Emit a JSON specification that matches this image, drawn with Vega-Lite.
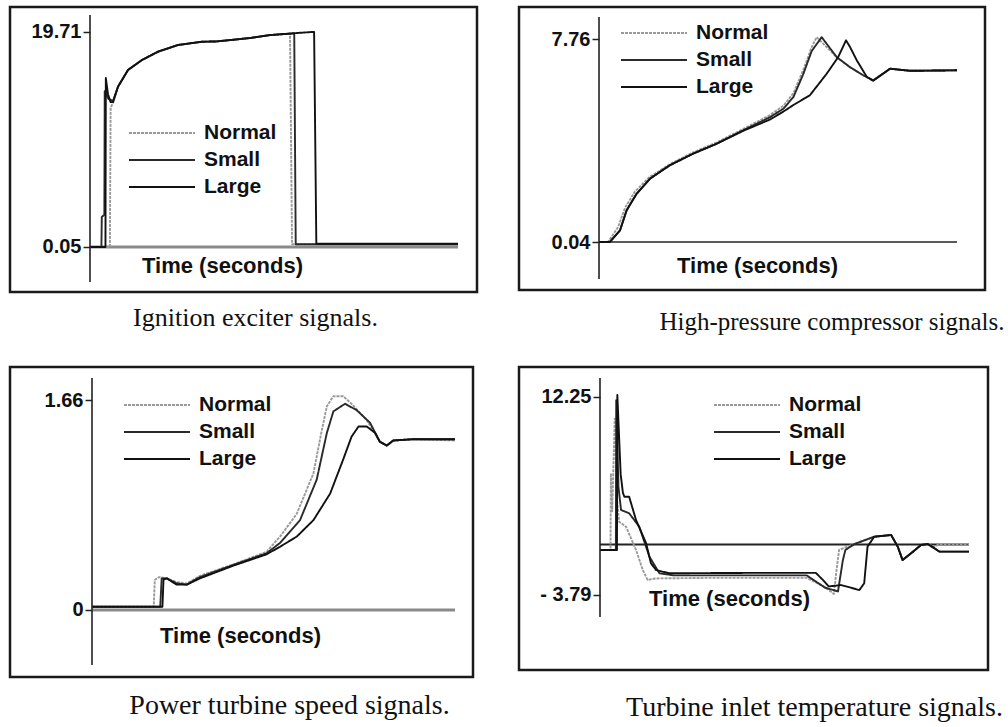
{
  "$schema": "https://vega.github.io/schema/vega-lite/v6.json",
  "background": "white",
  "padding": {"left": 8, "top": 5, "right": 0, "bottom": 0},
  "bounds": "flush",
  "columns": 2,
  "spacing": {"row": 75, "column": 42},
  "config": {
    "view": {"stroke": "#1a1a1a", "strokeWidth": 2.5},
    "font": "Liberation Sans",
    "line": {"strokeWidth": 1.9, "strokeJoin": "round"},
    "axis": {"labelFont": "Liberation Sans", "labelFontSize": 20, "labelFontWeight": "bold", "labelColor": "#111", "titleFont": "Liberation Sans", "titleFontSize": 22, "titleFontWeight": "bold", "titleColor": "#111", "grid": false, "tickColor": "#222", "tickWidth": 1.5},
    "axisY": {"domain": false, "tickSize": 7, "labelPadding": 2, "title": null, "labelExpr": "datum.value == 0 ? '0' : datum.value < 0 ? '- ' + format(-datum.value, '.2f') : format(datum.value, '.2f')"},
    "axisX": {"domain": false, "ticks": false, "labels": false, "titleBaseline": "middle", "titleAlign": "center"},
    "legend": {"symbolType": "stroke", "symbolSize": 4356, "symbolStrokeWidth": 2, "clipHeight": 22, "rowPadding": 5, "labelFont": "Liberation Sans", "labelFontSize": 21, "labelFontWeight": "bold", "labelColor": "#111", "labelOffset": 8, "padding": 0},
    "title": {"font": "Liberation Serif", "fontSize": 25, "fontWeight": "normal", "color": "#111", "orient": "bottom"}
  },
  "datasets": {
    "p1": [
      {"t": 0, "v": 0.05, "s": "Normal"}, {"t": 5.4, "v": 0.05, "s": "Normal"}, {"t": 5.6, "v": 12.8, "s": "Normal"}, {"t": 6.25, "v": 13.22, "s": "Normal"},
      {"t": 7.61, "v": 14.71, "s": "Normal"}, {"t": 10.33, "v": 16.24, "s": "Normal"}, {"t": 14.13, "v": 17.15, "s": "Normal"}, {"t": 18.48, "v": 17.91, "s": "Normal"}, {"t": 23.9, "v": 18.52, "s": "Normal"}, {"t": 30.4, "v": 18.82, "s": "Normal"}, {"t": 34.5, "v": 18.85, "s": "Normal"}, {"t": 43.5, "v": 19.16, "s": "Normal"}, {"t": 48.9, "v": 19.43, "s": "Normal"}, {"t": 54.35, "v": 19.55, "s": "Normal"}, {"t": 54.9, "v": 0.3, "s": "Normal"}, {"t": 100, "v": 0.3, "s": "Normal"},
      {"t": 0, "v": 0.05, "s": "Small"}, {"t": 3.1, "v": 0.05, "s": "Small"}, {"t": 3.2, "v": 2.8, "s": "Small"}, {"t": 3.9, "v": 3.0, "s": "Small"}, {"t": 4.0, "v": 14.3, "s": "Small"}, {"t": 5.0, "v": 13.6, "s": "Small"}, {"t": 6.25, "v": 13.4, "s": "Small"},
      {"t": 7.61, "v": 14.71, "s": "Small"}, {"t": 10.33, "v": 16.24, "s": "Small"}, {"t": 14.13, "v": 17.15, "s": "Small"}, {"t": 18.48, "v": 17.91, "s": "Small"}, {"t": 23.9, "v": 18.52, "s": "Small"}, {"t": 30.4, "v": 18.82, "s": "Small"}, {"t": 34.5, "v": 18.85, "s": "Small"}, {"t": 43.5, "v": 19.16, "s": "Small"}, {"t": 48.9, "v": 19.43, "s": "Small"}, {"t": 55.5, "v": 19.58, "s": "Small"}, {"t": 55.9, "v": 0.3, "s": "Small"}, {"t": 100, "v": 0.3, "s": "Small"},
      {"t": 0, "v": 0.05, "s": "Large"}, {"t": 4.2, "v": 0.05, "s": "Large"}, {"t": 4.3, "v": 15.5, "s": "Large"}, {"t": 4.9, "v": 14.0, "s": "Large"}, {"t": 5.6, "v": 13.3, "s": "Large"}, {"t": 6.25, "v": 13.3, "s": "Large"},
      {"t": 7.61, "v": 14.71, "s": "Large"}, {"t": 10.33, "v": 16.24, "s": "Large"}, {"t": 14.13, "v": 17.15, "s": "Large"}, {"t": 18.48, "v": 17.91, "s": "Large"}, {"t": 23.9, "v": 18.52, "s": "Large"}, {"t": 30.4, "v": 18.82, "s": "Large"}, {"t": 34.5, "v": 18.85, "s": "Large"}, {"t": 43.5, "v": 19.16, "s": "Large"}, {"t": 48.9, "v": 19.43, "s": "Large"}, {"t": 55.5, "v": 19.6, "s": "Large"}, {"t": 60.3, "v": 19.71, "s": "Large"}, {"t": 60.9, "v": 19.71, "s": "Large"}, {"t": 61.5, "v": 0.35, "s": "Large"}, {"t": 100, "v": 0.35, "s": "Large"}
    ],
    "p2": [
      {"t": 0, "v": 0.04, "s": "Normal"}, {"t": 2.5, "v": 0.04, "s": "Normal"}, {"t": 5.3, "v": 0.6, "s": "Normal"}, {"t": 7.3, "v": 1.35, "s": "Normal"}, {"t": 10.0, "v": 1.95, "s": "Normal"}, {"t": 14.0, "v": 2.5, "s": "Normal"}, {"t": 19.8, "v": 3.0, "s": "Normal"}, {"t": 26.3, "v": 3.45, "s": "Normal"}, {"t": 32.9, "v": 3.83, "s": "Normal"}, {"t": 40.3, "v": 4.34, "s": "Normal"}, {"t": 47.8, "v": 4.87, "s": "Normal"}, {"t": 51.5, "v": 5.22, "s": "Normal"}, {"t": 54.3, "v": 5.7, "s": "Normal"}, {"t": 57.1, "v": 6.6, "s": "Normal"}, {"t": 59.4, "v": 7.45, "s": "Normal"}, {"t": 60.8, "v": 7.83, "s": "Normal"}, {"t": 66.4, "v": 7.07, "s": "Normal"}, {"t": 70.1, "v": 6.69, "s": "Normal"}, {"t": 73.8, "v": 6.38, "s": "Normal"}, {"t": 76.6, "v": 6.19, "s": "Normal"}, {"t": 81.3, "v": 6.63, "s": "Normal"}, {"t": 87, "v": 6.55, "s": "Normal"}, {"t": 100, "v": 6.57, "s": "Normal"},
      {"t": 0, "v": 0.04, "s": "Small"}, {"t": 3.0, "v": 0.04, "s": "Small"}, {"t": 5.87, "v": 0.485, "s": "Small"}, {"t": 7.73, "v": 1.25, "s": "Small"}, {"t": 10.52, "v": 1.88, "s": "Small"}, {"t": 14.25, "v": 2.45, "s": "Small"}, {"t": 19.8, "v": 2.96, "s": "Small"}, {"t": 26.3, "v": 3.4, "s": "Small"}, {"t": 32.9, "v": 3.78, "s": "Small"}, {"t": 40.3, "v": 4.29, "s": "Small"}, {"t": 47.8, "v": 4.79, "s": "Small"}, {"t": 51.5, "v": 5.11, "s": "Small"}, {"t": 54.3, "v": 5.55, "s": "Small"}, {"t": 57.1, "v": 6.44, "s": "Small"}, {"t": 59.4, "v": 7.3, "s": "Small"}, {"t": 62.2, "v": 7.83, "s": "Small"}, {"t": 66.4, "v": 7.07, "s": "Small"}, {"t": 70.1, "v": 6.69, "s": "Small"}, {"t": 73.8, "v": 6.38, "s": "Small"}, {"t": 76.6, "v": 6.19, "s": "Small"}, {"t": 81.3, "v": 6.63, "s": "Small"}, {"t": 87, "v": 6.55, "s": "Small"}, {"t": 100, "v": 6.57, "s": "Small"},
      {"t": 0, "v": 0.04, "s": "Large"}, {"t": 3.0, "v": 0.04, "s": "Large"}, {"t": 5.87, "v": 0.485, "s": "Large"}, {"t": 7.73, "v": 1.25, "s": "Large"}, {"t": 10.52, "v": 1.88, "s": "Large"}, {"t": 14.25, "v": 2.45, "s": "Large"}, {"t": 19.8, "v": 2.96, "s": "Large"}, {"t": 26.3, "v": 3.4, "s": "Large"}, {"t": 32.9, "v": 3.78, "s": "Large"}, {"t": 40.3, "v": 4.27, "s": "Large"}, {"t": 47.8, "v": 4.7, "s": "Large"}, {"t": 51.5, "v": 5.0, "s": "Large"}, {"t": 54.3, "v": 5.25, "s": "Large"}, {"t": 58.9, "v": 5.62, "s": "Large"}, {"t": 63.6, "v": 6.44, "s": "Large"}, {"t": 66.8, "v": 7.07, "s": "Large"}, {"t": 69.0, "v": 7.71, "s": "Large"}, {"t": 70.1, "v": 7.46, "s": "Large"}, {"t": 72.0, "v": 6.95, "s": "Large"}, {"t": 74.8, "v": 6.32, "s": "Large"}, {"t": 76.6, "v": 6.17, "s": "Large"}, {"t": 81.3, "v": 6.63, "s": "Large"}, {"t": 87, "v": 6.55, "s": "Large"}, {"t": 100, "v": 6.57, "s": "Large"}
    ],
    "p3": [
      {"t": 0, "v": 0.026, "s": "Normal"}, {"t": 17.0, "v": 0.026, "s": "Normal"}, {"t": 17.3, "v": 0.237, "s": "Normal"}, {"t": 18.5, "v": 0.26, "s": "Normal"}, {"t": 20.6, "v": 0.25, "s": "Normal"}, {"t": 23.3, "v": 0.22, "s": "Normal"}, {"t": 26.1, "v": 0.21, "s": "Normal"}, {"t": 29.75, "v": 0.27, "s": "Normal"}, {"t": 38.9, "v": 0.36, "s": "Normal"}, {"t": 48.1, "v": 0.46, "s": "Normal"}, {"t": 51.8, "v": 0.58, "s": "Normal"}, {"t": 56.4, "v": 0.76, "s": "Normal"}, {"t": 61.0, "v": 1.08, "s": "Normal"}, {"t": 63.3, "v": 1.42, "s": "Normal"}, {"t": 64.7, "v": 1.61, "s": "Normal"}, {"t": 66.5, "v": 1.69, "s": "Normal"}, {"t": 69.2, "v": 1.69, "s": "Normal"}, {"t": 71.5, "v": 1.63, "s": "Normal"}, {"t": 75.7, "v": 1.5, "s": "Normal"}, {"t": 79.3, "v": 1.33, "s": "Normal"}, {"t": 81.2, "v": 1.3, "s": "Normal"}, {"t": 83.0, "v": 1.34, "s": "Normal"}, {"t": 88.5, "v": 1.35, "s": "Normal"}, {"t": 100, "v": 1.34, "s": "Normal"},
      {"t": 0, "v": 0.026, "s": "Small"}, {"t": 18.8, "v": 0.026, "s": "Small"}, {"t": 19.2, "v": 0.25, "s": "Small"}, {"t": 20.6, "v": 0.25, "s": "Small"}, {"t": 23.3, "v": 0.21, "s": "Small"}, {"t": 26.1, "v": 0.2, "s": "Small"}, {"t": 29.75, "v": 0.26, "s": "Small"}, {"t": 38.9, "v": 0.356, "s": "Small"}, {"t": 48.1, "v": 0.448, "s": "Small"}, {"t": 51.8, "v": 0.53, "s": "Small"}, {"t": 57.3, "v": 0.71, "s": "Small"}, {"t": 61.9, "v": 1.03, "s": "Small"}, {"t": 64.7, "v": 1.4, "s": "Small"}, {"t": 66.5, "v": 1.57, "s": "Small"}, {"t": 69.7, "v": 1.63, "s": "Small"}, {"t": 72.9, "v": 1.58, "s": "Small"}, {"t": 76.6, "v": 1.48, "s": "Small"}, {"t": 79.3, "v": 1.33, "s": "Small"}, {"t": 81.2, "v": 1.3, "s": "Small"}, {"t": 83.0, "v": 1.34, "s": "Small"}, {"t": 88.5, "v": 1.35, "s": "Small"}, {"t": 100, "v": 1.35, "s": "Small"},
      {"t": 0, "v": 0.026, "s": "Large"}, {"t": 19.4, "v": 0.026, "s": "Large"}, {"t": 19.7, "v": 0.24, "s": "Large"}, {"t": 20.6, "v": 0.25, "s": "Large"}, {"t": 23.3, "v": 0.2, "s": "Large"}, {"t": 26.1, "v": 0.2, "s": "Large"}, {"t": 29.75, "v": 0.25, "s": "Large"}, {"t": 38.9, "v": 0.35, "s": "Large"}, {"t": 48.1, "v": 0.44, "s": "Large"}, {"t": 51.8, "v": 0.5, "s": "Large"}, {"t": 56.4, "v": 0.58, "s": "Large"}, {"t": 61.0, "v": 0.71, "s": "Large"}, {"t": 65.6, "v": 0.92, "s": "Large"}, {"t": 69.2, "v": 1.19, "s": "Large"}, {"t": 71.5, "v": 1.37, "s": "Large"}, {"t": 73.4, "v": 1.45, "s": "Large"}, {"t": 75.7, "v": 1.45, "s": "Large"}, {"t": 78.0, "v": 1.4, "s": "Large"}, {"t": 79.3, "v": 1.33, "s": "Large"}, {"t": 81.2, "v": 1.3, "s": "Large"}, {"t": 83.0, "v": 1.34, "s": "Large"}, {"t": 88.5, "v": 1.35, "s": "Large"}, {"t": 100, "v": 1.35, "s": "Large"}
    ],
    "p4": [
      {"t": 0, "v": -0.14, "s": "Normal"}, {"t": 2.85, "v": -0.14, "s": "Normal"}, {"t": 2.95, "v": 6.07, "s": "Normal"}, {"t": 3.3, "v": 3.0, "s": "Normal"}, {"t": 4.0, "v": 10.5, "s": "Normal"}, {"t": 4.6, "v": 4.0, "s": "Normal"}, {"t": 5.2, "v": 2.15, "s": "Normal"}, {"t": 7.05, "v": 1.74, "s": "Normal"}, {"t": 9.76, "v": -0.14, "s": "Normal"}, {"t": 11.6, "v": -1.77, "s": "Normal"}, {"t": 12.9, "v": -2.57, "s": "Normal"}, {"t": 15, "v": -2.45, "s": "Normal"}, {"t": 30, "v": -2.4, "s": "Normal"}, {"t": 56, "v": -2.4, "s": "Normal"}, {"t": 60.7, "v": -3.1, "s": "Normal"}, {"t": 63.4, "v": -3.7, "s": "Normal"}, {"t": 64.0, "v": -2.0, "s": "Normal"}, {"t": 64.8, "v": -0.14, "s": "Normal"}, {"t": 68.8, "v": 0.34, "s": "Normal"}, {"t": 74.3, "v": 0.93, "s": "Normal"}, {"t": 78.9, "v": 1.07, "s": "Normal"}, {"t": 80.7, "v": 0.12, "s": "Normal"}, {"t": 82.0, "v": -0.96, "s": "Normal"}, {"t": 84.3, "v": -0.41, "s": "Normal"}, {"t": 87.0, "v": 0.26, "s": "Normal"}, {"t": 88.8, "v": 0.34, "s": "Normal"}, {"t": 90.6, "v": 0.12, "s": "Normal"}, {"t": 92, "v": 0.34, "s": "Normal"}, {"t": 100, "v": 0.34, "s": "Normal"},
      {"t": 0, "v": -0.14, "s": "Small"}, {"t": 4.3, "v": -0.14, "s": "Small"}, {"t": 4.4, "v": 12.0, "s": "Small"}, {"t": 5.0, "v": 5.0, "s": "Small"}, {"t": 5.7, "v": 3.1, "s": "Small"}, {"t": 7.9, "v": 2.83, "s": "Small"}, {"t": 10.65, "v": 1.74, "s": "Small"}, {"t": 13.4, "v": -0.69, "s": "Small"}, {"t": 16.1, "v": -2.03, "s": "Small"}, {"t": 20, "v": -2.2, "s": "Small"}, {"t": 40, "v": -2.2, "s": "Small"}, {"t": 56, "v": -2.2, "s": "Small"}, {"t": 58, "v": -2.6, "s": "Small"}, {"t": 61, "v": -3.2, "s": "Small"}, {"t": 64.5, "v": -3.5, "s": "Small"}, {"t": 65.8, "v": -1.0, "s": "Small"}, {"t": 66.5, "v": -0.14, "s": "Small"}, {"t": 69, "v": 0.34, "s": "Small"}, {"t": 74.3, "v": 0.93, "s": "Small"}, {"t": 78.9, "v": 1.07, "s": "Small"}, {"t": 80.7, "v": 0.12, "s": "Small"}, {"t": 82.0, "v": -0.96, "s": "Small"}, {"t": 84.3, "v": -0.41, "s": "Small"}, {"t": 87.0, "v": 0.26, "s": "Small"}, {"t": 88.8, "v": 0.34, "s": "Small"}, {"t": 90.6, "v": 0.0, "s": "Small"}, {"t": 92, "v": -0.28, "s": "Small"}, {"t": 100, "v": -0.28, "s": "Small"},
      {"t": 0, "v": -0.14, "s": "Large"}, {"t": 4.6, "v": -0.14, "s": "Large"}, {"t": 4.7, "v": 12.41, "s": "Large"}, {"t": 5.6, "v": 6.0, "s": "Large"}, {"t": 6.2, "v": 4.5, "s": "Large"}, {"t": 6.6, "v": 4.17, "s": "Large"}, {"t": 7.9, "v": 4.17, "s": "Large"}, {"t": 9.76, "v": 2.29, "s": "Large"}, {"t": 12.5, "v": 0.4, "s": "Large"}, {"t": 13.8, "v": -1.22, "s": "Large"}, {"t": 15.2, "v": -1.77, "s": "Large"}, {"t": 18.8, "v": -2.03, "s": "Large"}, {"t": 40, "v": -2.0, "s": "Large"}, {"t": 58.5, "v": -2.0, "s": "Large"}, {"t": 60.5, "v": -2.6, "s": "Large"}, {"t": 62, "v": -3.1, "s": "Large"}, {"t": 65.3, "v": -2.98, "s": "Large"}, {"t": 70.3, "v": -3.39, "s": "Large"}, {"t": 71.6, "v": -2.84, "s": "Large"}, {"t": 72.5, "v": 0.12, "s": "Large"}, {"t": 74.3, "v": 0.93, "s": "Large"}, {"t": 78.9, "v": 1.07, "s": "Large"}, {"t": 80.7, "v": 0.12, "s": "Large"}, {"t": 82.0, "v": -0.96, "s": "Large"}, {"t": 84.3, "v": -0.41, "s": "Large"}, {"t": 87.0, "v": 0.26, "s": "Large"}, {"t": 88.8, "v": 0.34, "s": "Large"}, {"t": 90.6, "v": 0.0, "s": "Large"}, {"t": 92, "v": -0.28, "s": "Large"}, {"t": 100, "v": -0.28, "s": "Large"}
    ]
  },
  "resolve": {"scale": {"color": "independent", "strokeDash": "independent"}, "legend": {"color": "independent", "strokeDash": "independent"}},
  "concat": [
    {
      "width": 467, "height": 285,
      "title": {"text": "Ignition exciter signals.", "orient": "bottom", "dx": 12, "offset": 13, "fontSize": 26},
      "layer": [
        {"data": {"values": [{"k": "base"}]}, "mark": {"type": "rule", "color": "#8a8a8a", "strokeWidth": 3}, "encoding": {"x": {"datum": 0}, "x2": {"datum": 100}, "y": {"datum": 0.05}}},
        {"data": {"name": "p1"}, "mark": {"type": "line"},
         "encoding": {
           "x": {"field": "t", "type": "quantitative", "scale": {"domain": [-21.74, 105.16], "nice": false, "zero": false}, "axis": {"title": "Time (seconds)", "titleX": 212, "titleY": -27}},
           "y": {"field": "v", "type": "quantitative", "scale": {"domain": [-4.065, 21.996], "nice": false, "zero": false}, "axis": {"values": [0.05, 19.71], "offset": -80}},
           "color": {"field": "s", "type": "nominal", "scale": {"domain": ["Normal", "Small", "Large"], "range": ["#9a9a9a", "#2a2a2a", "#111111"]}, "legend": {"orient": "none", "legendX": 118, "legendY": 115, "title": null}},
           "strokeDash": {"field": "s", "type": "nominal", "scale": {"domain": ["Normal", "Small", "Large"], "range": [[3, 1], [1, 0], [1, 0]]}, "legend": {"orient": "none", "legendX": 118, "legendY": 115, "title": null}}
         }},
        {"data": {"values": [{"k": "axis"}]}, "mark": {"type": "rule", "color": "#222", "strokeWidth": 1.6}, "encoding": {"x": {"datum": 0}, "y": {"datum": -3.15}, "y2": {"datum": 21.26}}}
      ]
    },
    {
      "width": 466, "height": 283,
      "title": {"text": "High-pressure compressor signals.", "orient": "bottom", "dx": 80, "offset": 20},
      "layer": [
        {"data": {"values": [{"k": "base"}]}, "mark": {"type": "rule", "color": "#222", "strokeWidth": 1.6}, "encoding": {"x": {"datum": 0}, "x2": {"datum": 100}, "y": {"datum": 0.04}}},
        {"data": {"name": "p2"}, "mark": {"type": "line"},
         "encoding": {
           "x": {"field": "t", "type": "quantitative", "scale": {"domain": [-22.35, 107.82], "nice": false, "zero": false}, "axis": {"title": "Time (seconds)", "titleX": 238, "titleY": -25}},
           "y": {"field": "v", "type": "quantitative", "scale": {"domain": [-1.785, 8.977], "nice": false, "zero": false}, "axis": {"values": [0.04, 7.76], "offset": -80}},
           "color": {"field": "s", "type": "nominal", "scale": {"domain": ["Normal", "Small", "Large"], "range": ["#9a9a9a", "#2a2a2a", "#111111"]}, "legend": {"orient": "none", "legendX": 101, "legendY": 15, "title": null}},
           "strokeDash": {"field": "s", "type": "nominal", "scale": {"domain": ["Normal", "Small", "Large"], "range": [[3, 1], [1, 0], [1, 0]]}, "legend": {"orient": "none", "legendX": 101, "legendY": 15, "title": null}}
         }},
        {"data": {"values": [{"k": "axis"}]}, "mark": {"type": "rule", "color": "#222", "strokeWidth": 1.6}, "encoding": {"x": {"datum": 0}, "y": {"datum": -1.37}, "y2": {"datum": 8.6}}}
      ]
    },
    {
      "width": 463, "height": 310,
      "title": {"text": "Power turbine speed signals.", "orient": "bottom", "dx": 48, "offset": 15, "fontSize": 28},
      "layer": [
        {"data": {"values": [{"k": "base"}]}, "mark": {"type": "rule", "color": "#8a8a8a", "strokeWidth": 3}, "encoding": {"x": {"datum": 0}, "x2": {"datum": 100}, "y": {"datum": 0}}},
        {"data": {"name": "p3"}, "mark": {"type": "line"},
         "encoding": {
           "x": {"field": "t", "type": "quantitative", "scale": {"domain": [-22.59, 104.96], "nice": false, "zero": false}, "axis": {"title": "Time (seconds)", "titleX": 230, "titleY": -42}},
           "y": {"field": "v", "type": "quantitative", "scale": {"domain": [-0.53, 1.921], "nice": false, "zero": false}, "axis": {"values": [0, 1.66], "offset": -82}},
           "color": {"field": "s", "type": "nominal", "scale": {"domain": ["Normal", "Small", "Large"], "range": ["#9a9a9a", "#2a2a2a", "#111111"]}, "legend": {"orient": "none", "legendX": 113, "legendY": 27, "title": null}},
           "strokeDash": {"field": "s", "type": "nominal", "scale": {"domain": ["Normal", "Small", "Large"], "range": [[3, 1], [1, 0], [1, 0]]}, "legend": {"orient": "none", "legendX": 113, "legendY": 27, "title": null}}
         }},
        {"data": {"values": [{"k": "axis"}]}, "mark": {"type": "rule", "color": "#222", "strokeWidth": 1.6}, "encoding": {"x": {"datum": 0}, "y": {"datum": -0.435}, "y2": {"datum": 1.834}}}
      ]
    },
    {
      "width": 469, "height": 303,
      "title": {"text": "Turbine inlet temperature signals.", "orient": "bottom", "dx": 61, "offset": 24, "fontSize": 28},
      "layer": [
        {"data": {"values": [{"k": "base"}]}, "mark": {"type": "rule", "color": "#222", "strokeWidth": 1.8}, "encoding": {"x": {"datum": 0}, "x2": {"datum": 100}, "y": {"datum": 0.3}}},
        {"data": {"name": "p4"}, "mark": {"type": "line"},
         "encoding": {
           "x": {"field": "t", "type": "quantitative", "scale": {"domain": [-21.95, 105.15], "nice": false, "zero": false}, "axis": {"title": "Time (seconds)", "titleX": 210, "titleY": -72}},
           "y": {"field": "v", "type": "quantitative", "scale": {"domain": [-9.866, 14.68], "nice": false, "zero": false}, "axis": {"values": [-3.79, 12.25], "offset": -81}},
           "color": {"field": "s", "type": "nominal", "scale": {"domain": ["Normal", "Small", "Large"], "range": ["#9a9a9a", "#2a2a2a", "#111111"]}, "legend": {"orient": "none", "legendX": 194, "legendY": 27, "title": null}},
           "strokeDash": {"field": "s", "type": "nominal", "scale": {"domain": ["Normal", "Small", "Large"], "range": [[3, 1], [1, 0], [1, 0]]}, "legend": {"orient": "none", "legendX": 194, "legendY": 27, "title": null}}
         }},
        {"data": {"values": [{"k": "axis"}]}, "mark": {"type": "rule", "color": "#222", "strokeWidth": 1.6}, "encoding": {"x": {"datum": 0}, "y": {"datum": -5.57}, "y2": {"datum": 13.79}}}
      ]
    }
  ]
}
